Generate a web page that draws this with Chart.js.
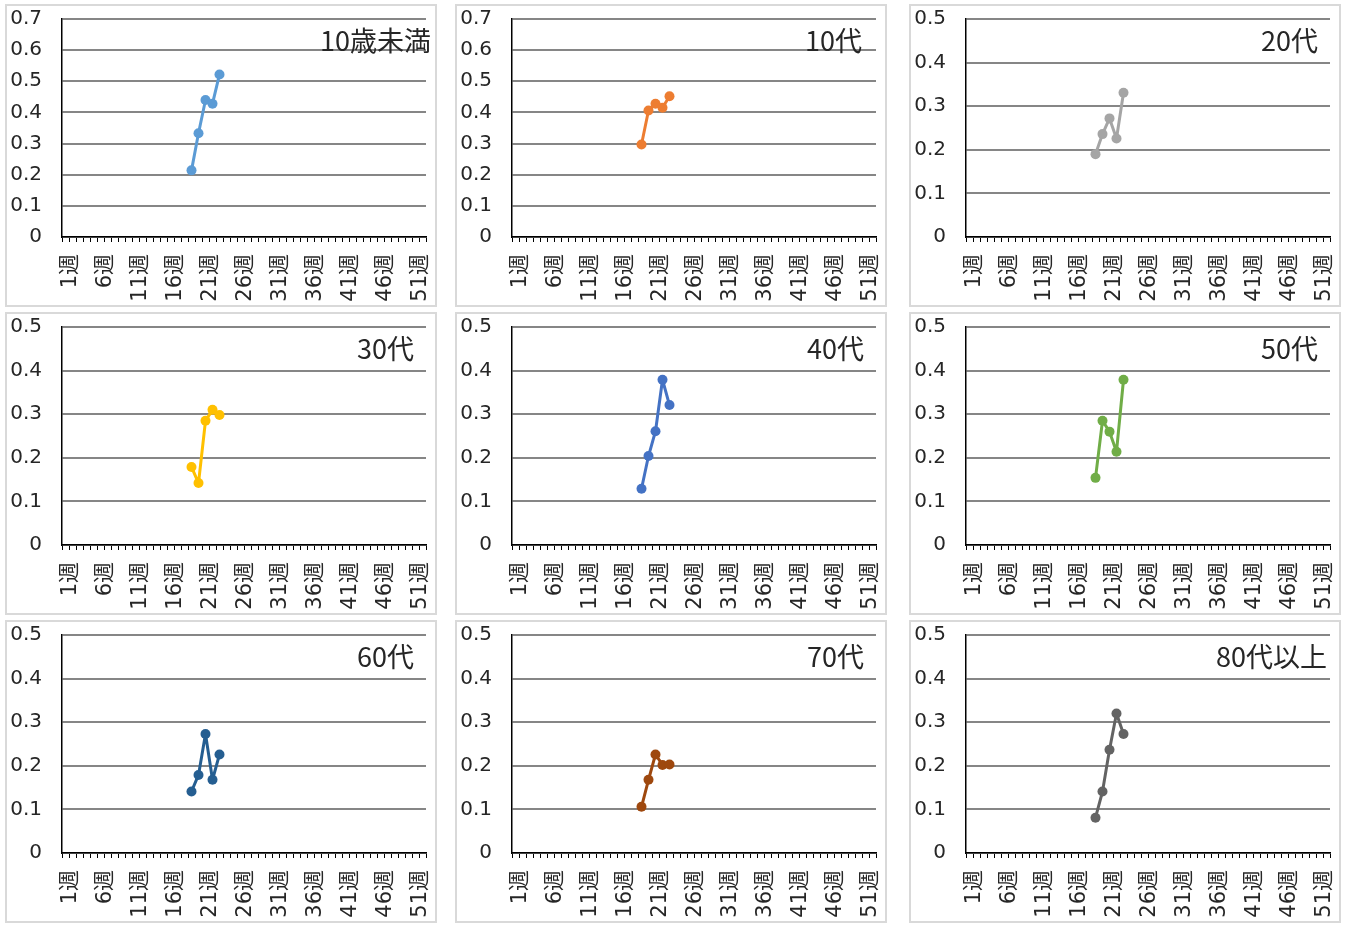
<!DOCTYPE html>
<html>
<head>
<meta charset="utf-8">
<script src="https://cdn.jsdelivr.net/npm/chart.js@4/dist/chart.umd.min.js"></script>
<style>
  html, body { margin: 0; padding: 0; background: #ffffff; }
  body { width: 1348px; height: 925px; position: relative; overflow: hidden; }
  .panel { position: absolute; width: 432px; height: 303px; box-sizing: border-box; border: 2px solid #d9d9d9; background: #fff; }
  .panel canvas { position: absolute; left: 0; top: 0; }
</style>
</head>
<body>
<script>
// ---------- DATA ----------
const weekLabels = [];
for (let w = 1; w <= 52; w++) weekLabels.push(w + '週');
const firstWeek = 19; // week of first observed value

const groupNames = ['10歳未満', '10代', '20代', '30代', '40代', '50代', '60代', '70代', '80代以上'];

const under10 = [0.214, 0.333, 0.440, 0.428, 0.522];
const teens   = [0.297, 0.406, 0.428, 0.415, 0.452];
const twenties = [0.190, 0.236, 0.272, 0.226, 0.331];
const thirties = [0.179, 0.142, 0.285, 0.310, 0.298];
const forties  = [0.129, 0.204, 0.261, 0.379, 0.321];
const fifties  = [0.154, 0.285, 0.260, 0.214, 0.379];
const sixties  = [0.141, 0.179, 0.273, 0.168, 0.226];
const seventies = [0.106, 0.168, 0.226, 0.202, 0.203];
const over80   = [0.081, 0.141, 0.237, 0.320, 0.273];

const seriesValues = [under10, teens, twenties, thirties, forties, fifties, sixties, seventies, over80];
const yMaxValues = [0.7, 0.7, 0.5, 0.5, 0.5, 0.5, 0.5, 0.5, 0.5];

// ---------- STYLE ----------
const colors = ['#5B9BD5', '#ED7D31', '#A5A5A5', '#FFC000', '#4472C4', '#70AD47', '#255E91', '#9E480E', '#636363'];
const panelLeft = [5, 455, 909];
const panelTop = [4, 312, 620];
const titleRightShift = [5, -14, -12, -12, -12, -12, -12, -12, -3];
const CW = 428, CH = 299;

const titlePlugin = {
  id: 'innerTitle',
  afterDraw(chart, args, opts) {
    const ctx = chart.ctx, a = chart.chartArea;
    ctx.save();
    ctx.font = '27px "Noto Sans CJK JP", "DejaVu Sans", sans-serif';
    ctx.fillStyle = '#262626';
    ctx.textAlign = 'right';
    ctx.textBaseline = 'middle';
    ctx.fillText(opts.text, a.right + opts.shift, a.top + 22);
    ctx.restore();
  }
};

groupNames.forEach((name, i) => {
  const col = i % 3, row = Math.floor(i / 3);
  const div = document.createElement('div');
  div.className = 'panel';
  div.style.left = panelLeft[col] + 'px';
  div.style.top = panelTop[row] + 'px';
  const canvas = document.createElement('canvas');
  canvas.width = CW; canvas.height = CH;
  canvas.style.width = CW + 'px'; canvas.style.height = CH + 'px';
  div.appendChild(canvas);
  document.body.appendChild(div);

  const vals = seriesValues[i];
  const data = weekLabels.map((l, k) => {
    const j = k - (firstWeek - 1);
    return (j >= 0 && j < vals.length) ? vals[j] : null;
  });

  new Chart(canvas, {
    type: 'line',
    data: {
      labels: weekLabels,
      datasets: [{
        label: name,
        data: data,
        borderColor: colors[i],
        backgroundColor: colors[i],
        pointBackgroundColor: colors[i],
        pointBorderColor: colors[i],
        borderWidth: 3,
        borderJoinStyle: 'round',
        borderCapStyle: 'round',
        pointRadius: 5,
        pointBorderWidth: 0,
        tension: 0,
        spanGaps: false
      }]
    },
    options: {
      responsive: false,
      animation: false,
      devicePixelRatio: 1,
      layout: { padding: { left: 0, right: 9, top: 13, bottom: 0 } },
      plugins: {
        legend: { display: false },
        tooltip: { enabled: false },
        title: { display: false },
        innerTitle: { text: name, shift: titleRightShift[i] }
      },
      scales: {
        x: {
          type: 'category',
          offset: true,
          grid: { display: true, offset: true, drawOnChartArea: false, drawTicks: true, tickLength: 5, color: '#000000', lineWidth: 1 },
          border: { display: true, color: '#000000', width: 1.5 },
          ticks: {
            autoSkip: false,
            maxRotation: 90,
            minRotation: 90,
            padding: 12,
            labelOffset: 5,
            color: '#262626',
            font: { family: '"DejaVu Sans", "Noto Sans CJK JP", sans-serif', size: 21 },
            callback: function(val, idx) { return idx % 5 === 0 ? this.getLabelForValue(val) : ''; }
          },
          afterFit: (scale) => { scale.height = 68; scale.paddingLeft = 0; scale.paddingRight = 0; scale.paddingTop = 0; scale.paddingBottom = 0; }
        },
        y: {
          min: 0,
          max: yMaxValues[i],
          grid: { color: '#868686', lineWidth: 2, drawTicks: false },
          border: { display: true, color: '#000000', width: 1.5 },
          ticks: {
            stepSize: 0.1,
            padding: 20,
            color: '#262626',
            font: { family: '"DejaVu Sans", sans-serif', size: 20 }
          },
          afterFit: (scale) => { scale.width = 55; scale.paddingLeft = 0; scale.paddingRight = 0; scale.paddingTop = 0; scale.paddingBottom = 0; }
        }
      }
    },
    plugins: [titlePlugin]
  });
});
</script>
</body>
</html>
